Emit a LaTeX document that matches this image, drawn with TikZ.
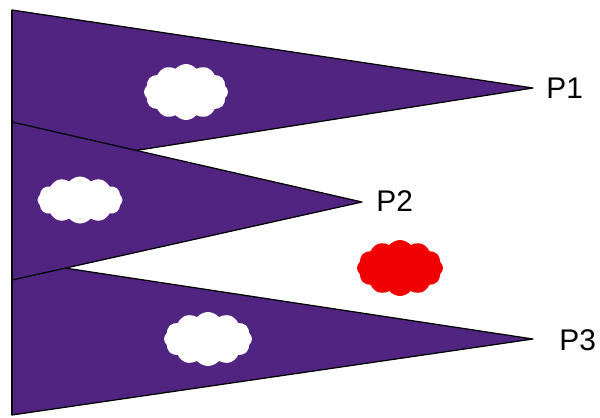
\documentclass[tikz,border=0pt]{standalone}
\usepackage{fontspec}
\setmainfont{Liberation Sans}
\usetikzlibrary{shapes.symbols}
\definecolor{flagpurple}{RGB}{80,36,128}
\definecolor{cloudred}{RGB}{240,0,0}

\begin{document}
\begin{tikzpicture}[x=0.02cm,y=-0.02cm,
    pennant/.style={fill=flagpurple, draw=black, line width=0.7pt, line join=round},
    puff/.style={cloud, cloud puffs=12, cloud puff arc=100, fill=white, draw=none, inner sep=0pt},
    tag/.style={font=\fontsize{17}{20}\selectfont, anchor=west, inner sep=0pt}]
    \useasboundingbox (0,0) rectangle (600,417);

    % tips of the three flags
    \coordinate (tip1) at (533,88);
    \coordinate (tip2) at (362,202);
    \coordinate (tip3) at (533,339);

    % flags, the middle one drawn last so it sits on top
    \draw[pennant] (12,10) -- (tip1) -- (12,170) -- cycle;
    \draw[pennant] (12,260) -- (tip3) -- (12,415) -- cycle;
    \draw[pennant] (12,122) -- (tip2) -- (12,280) -- cycle;
    % heavier pole line along the left side
    \draw[line width=1.2pt] (12,10) -- (12,415);

    % clouds
    \node[puff, minimum width=1.68cm, minimum height=1.12cm] (cloud1) at (186,92) {};
    \node[puff, minimum width=1.7cm, minimum height=0.94cm] (cloud2) at (80,200) {};
    \node[puff, minimum width=1.76cm, minimum height=1.08cm] (cloud3) at (208,339) {};
    \node[puff, fill=cloudred, minimum width=1.72cm, minimum height=1.12cm] (storm) at (400,268) {};

    % labels
    \node[tag] (p1) at (546,88) {P1};
    \node[tag] (p2) at (376,201) {P2};
    \node[tag] (p3) at (559,340) {P3};
\end{tikzpicture}
\end{document}
